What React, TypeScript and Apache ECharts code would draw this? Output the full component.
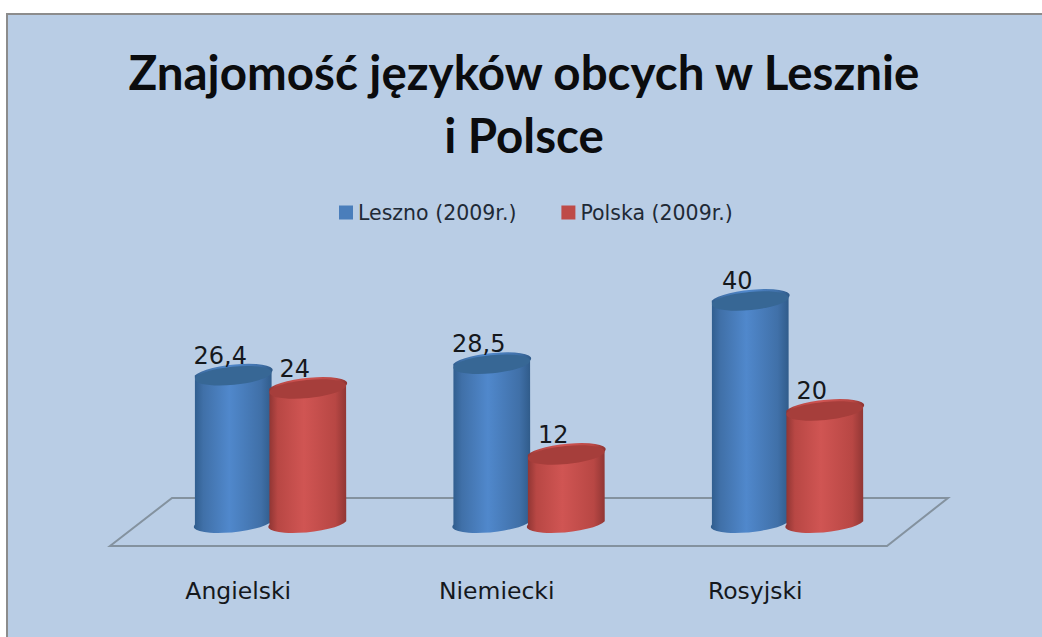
import React, { useEffect, useRef } from "react";
import * as echarts from "echarts";

const categories = ["Angielski", "Niemiecki", "Rosyjski"];
const lesznoValues = [26.4, 28.5, 40];
const polskaValues = [24, 12, 20];
const lesznoLabels = ["26,4", "28,5", "40"];
const polskaLabels = ["24", "12", "20"];
const titleLines = "Znajomość języków obcych w Lesznie\ni Polsce";
const seriesNames = ["Leszno (2009r.)", "Polska (2009r.)"];

const FONT = "Lato";
const WIDE_FONT = "DejaVu Sans";
const RX = 38.5;
const RY = 9;
const TILT = -5.5;

function cylinder(offset: number, labels: string[], palette: any) {
  return (params: any, api: any) => {
    const i = api.value(0);
    const top = api.coord([i, api.value(1)]);
    const base = api.coord([i, 0]);
    const cx = top[0] + offset;
    const t = (TILT * Math.PI) / 180;
    const w = Math.sqrt(RX * RX * Math.cos(t) ** 2 + RY * RY * Math.sin(t) ** 2);
    const dy = (Math.abs((RX * RX - RY * RY) * Math.sin(t) * Math.cos(t))) / w;
    const d =
      `M ${cx - w} ${top[1] + dy} L ${cx - w} ${base[1] + dy} ` +
      `A ${RX} ${RY} ${TILT} 0 0 ${cx + w} ${base[1] - dy} ` +
      `L ${cx + w} ${top[1] - dy} ` +
      `A ${RX} ${RY} ${TILT} 0 0 ${cx - w} ${top[1] + dy} Z`;
    return {
      type: "group",
      children: [
        {
          type: "path",
          shape: { pathData: d },
          style: {
            fill: new echarts.graphic.LinearGradient(0, 0, 1, 0, [
              { offset: 0, color: palette.edgeL },
              { offset: 0.12, color: palette.mid },
              { offset: 0.45, color: palette.light },
              { offset: 0.85, color: palette.mid },
              { offset: 1, color: palette.edgeR },
            ]),
          },
        },
        {
          type: "ellipse",
          shape: { cx: 0, cy: 0, rx: RX, ry: RY },
          x: cx,
          y: top[1],
          rotation: -t,
          style: { fill: palette.cap },
        },
        {
          type: "text",
          x: cx - 13,
          y: top[1] - 20,
          style: {
            text: labels[i],
            font: `24px "${WIDE_FONT}"`,
            fill: "#15181c",
            align: "center",
            verticalAlign: "middle",
          },
        },
      ],
    };
  };
}

const bluePalette = { edgeL: "#2f5c8c", mid: "#4070a8", light: "#5088cc", edgeR: "#2f5a88", cap: "#376795" };
const redPalette = { edgeL: "#8c3432", mid: "#b84744", light: "#d05553", edgeR: "#8e3533", cap: "#a63e3b" };

export default function App() {
  const ref = useRef<HTMLDivElement>(null);
  useEffect(() => {
    document.body.style.margin = "0";
    const chart = echarts.init(ref.current!, null, { renderer: "svg" });
    chart.setOption({
      animation: false,
      backgroundColor: "#ffffff",
      textStyle: { fontFamily: FONT },
      title: {
        text: titleLines,
        left: 519,
        top: 35,
        textAlign: "center",
        textStyle: { fontFamily: FONT, fontSize: 47.5, fontWeight: "bold", color: "#0b0c0e", lineHeight: 63 },
      },
      legend: {
        left: 334,
        top: 197,
        itemWidth: 14,
        itemHeight: 14,
        itemGap: 45,
        icon: "rect",
        data: seriesNames,
        textStyle: { fontFamily: WIDE_FONT, fontSize: 20.5, color: "#1f2a36" },
      },
      grid: { left: 141, width: 775.5, top: 301, height: 220 },
      xAxis: {
        type: "category",
        data: categories,
        axisLine: { show: false },
        axisTick: { show: false },
        axisLabel: {
          margin: 58,
          fontFamily: WIDE_FONT,
          fontSize: 23.5,
          color: "#15181c",
          padding: [0, 64, 0, 0],
        },
      },
      yAxis: { type: "value", min: 0, max: 40, show: false, splitLine: { show: false } },
      graphic: [
        {
          type: "rect",
          shape: { x: 7, y: 14, width: 1060, height: 640 },
          style: { fill: "#b9cde5", stroke: "#8c8c8c", lineWidth: 2 },
        },
        {
          type: "polygon",
          shape: { points: [[110, 546], [172, 498], [948, 498], [887, 546]] },
          style: { fill: "none", stroke: "#84929f", lineWidth: 2 },
        },
      ],
      series: [
        {
          type: "custom",
          name: seriesNames[0],
          itemStyle: { color: "#4a7ebb" },
          renderItem: cylinder(-37, lesznoLabels, bluePalette),
          encode: { x: 0, y: 1 },
          data: lesznoValues.map((v, i) => [i, v]),
          z: 2,
        },
        {
          type: "custom",
          name: seriesNames[1],
          itemStyle: { color: "#be4b48" },
          renderItem: cylinder(37.5, polskaLabels, redPalette),
          encode: { x: 0, y: 1 },
          data: polskaValues.map((v, i) => [i, v]),
          z: 3,
        },
      ],
    });
    return () => chart.dispose();
  }, []);
  return <div ref={ref} style={{ width: 1042, height: 637 }} />;
}
